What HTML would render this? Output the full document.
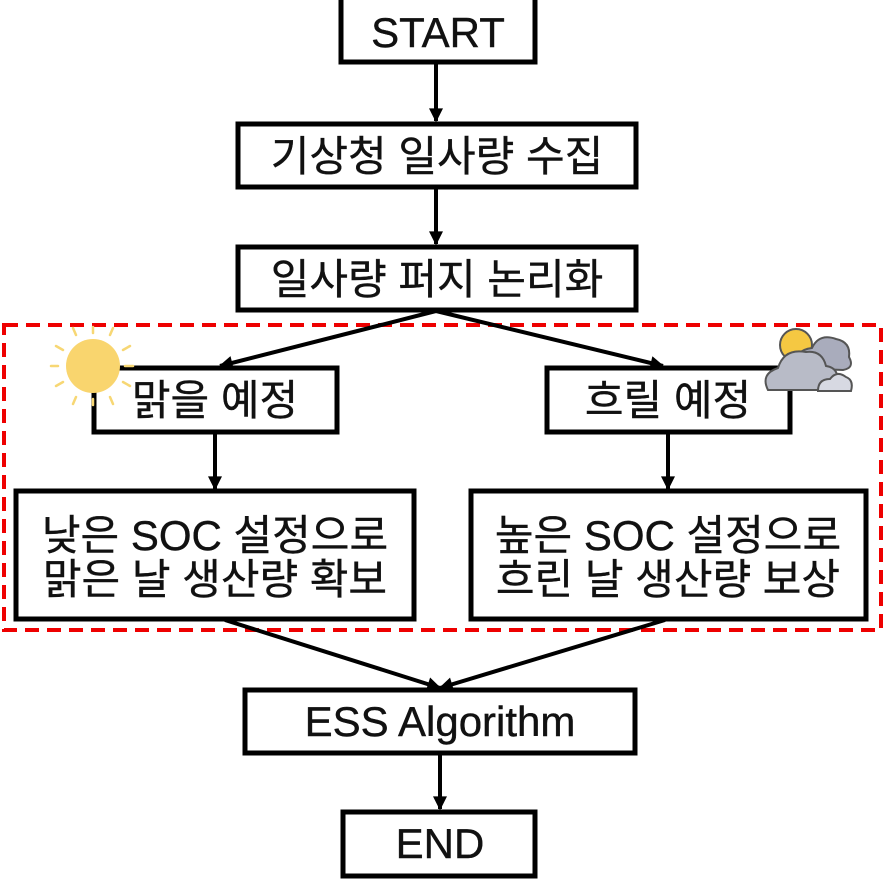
<!DOCTYPE html>
<html><head><meta charset="utf-8"><style>
html,body{margin:0;padding:0;background:#fff;}
svg{display:block;}
text{font-family:"Liberation Sans","Noto Sans CJK KR",sans-serif;font-size:42px;fill:#111;text-anchor:middle;stroke:#111;stroke-width:0.4;}
</style></head><body>
<svg width="886" height="886" viewBox="0 0 886 886">
<defs>
<marker id="b" viewBox="0 0 10 10" markerWidth="16" markerHeight="14" refX="9" refY="5" orient="auto" markerUnits="userSpaceOnUse"><path d="M0,0 L10,5 L0,10 z" fill="#000"/></marker></defs>
<rect x="4" y="325" width="877" height="305" fill="none" stroke="#e00" stroke-width="4" stroke-dasharray="14,8"/>
<g fill="#fff" stroke="#000" stroke-width="5">
<rect x="341" y="-5" width="194" height="67"/>
<rect x="238" y="124" width="398" height="63"/>
<rect x="238" y="247" width="398" height="63"/>
<rect x="94" y="368" width="243" height="64"/>
<rect x="547" y="368" width="243" height="64"/>
<rect x="16" y="491" width="398" height="128"/>
<rect x="471" y="491" width="395" height="128"/>
<rect x="245" y="690" width="390" height="63"/>
<rect x="343" y="812" width="192" height="64"/>
</g>
<g stroke="#000" stroke-width="4" fill="none">
<line x1="436" y1="62" x2="436" y2="121" marker-end="url(#b)"/>
<line x1="436" y1="187" x2="436" y2="244" marker-end="url(#b)"/>
<line x1="436" y1="311" x2="220" y2="366" marker-end="url(#b)"/>
<line x1="436" y1="311" x2="663" y2="366" marker-end="url(#b)"/>
<line x1="215" y1="432" x2="215" y2="489" marker-end="url(#b)"/>
<line x1="668" y1="432" x2="668" y2="489" marker-end="url(#b)"/>
<line x1="225" y1="620" x2="440" y2="688" marker-end="url(#b)"/>
<line x1="665" y1="620" x2="440" y2="688" marker-end="url(#b)"/>
<line x1="440" y1="753" x2="440" y2="809" marker-end="url(#b)"/>
</g>
<text x="438" y="47">START</text>
<text x="437" y="171">기상청 일사량 수집</text>
<text x="437" y="294">일사량 퍼지 논리화</text>
<text x="215" y="415">맑을 예정</text>
<text x="668" y="415">흐릴 예정</text>
<text x="215" y="550">낮은 SOC 설정으로</text>
<text x="215" y="594">맑은 날 생산량 확보</text>
<text x="668" y="550">높은 SOC 설정으로</text>
<text x="668" y="594">흐린 날 생산량 보상</text>
<text x="440" y="736">ESS Algorithm</text>
<text x="440" y="858">END</text>
<g stroke="#f7d774" stroke-width="2.5" stroke-linecap="round">
<line x1="51" y1="366" x2="58" y2="366"/><line x1="125" y1="366" x2="133" y2="366"/>
<line x1="93" y1="333" x2="93" y2="327"/><line x1="93" y1="399" x2="93" y2="405"/>
<line x1="76" y1="335" x2="73" y2="328"/><line x1="110" y1="335" x2="113" y2="328"/>
<line x1="76" y1="397" x2="73" y2="404"/><line x1="110" y1="397" x2="113" y2="404"/>
<line x1="63" y1="350" x2="56" y2="346"/><line x1="123" y1="350" x2="130" y2="346"/>
<line x1="63" y1="382" x2="56" y2="386"/><line x1="123" y1="382" x2="130" y2="386"/>
</g>
<circle cx="93" cy="366" r="27" fill="#f9d56e"/>
<g stroke="#555" stroke-width="2">
<circle cx="796" cy="345" r="16" fill="#f5c842"/>
<path d="M794,368 q0,-18 18,-20 q7,-15 24,-9 q15,3 13,18 q6,11 -6,13 z" fill="#a9acbc"/>
<path d="M768,390 q-8,-16 10,-22 q6,-20 28,-16 q16,-2 20,14 q16,2 10,24 z" fill="#b8bbc7"/>
<path d="M818,391 q0,-12 12,-12 q7,-9 16,-2 q8,3 5,14 z" fill="#d7d9e2"/>
</g>
</svg>
</body></html>
